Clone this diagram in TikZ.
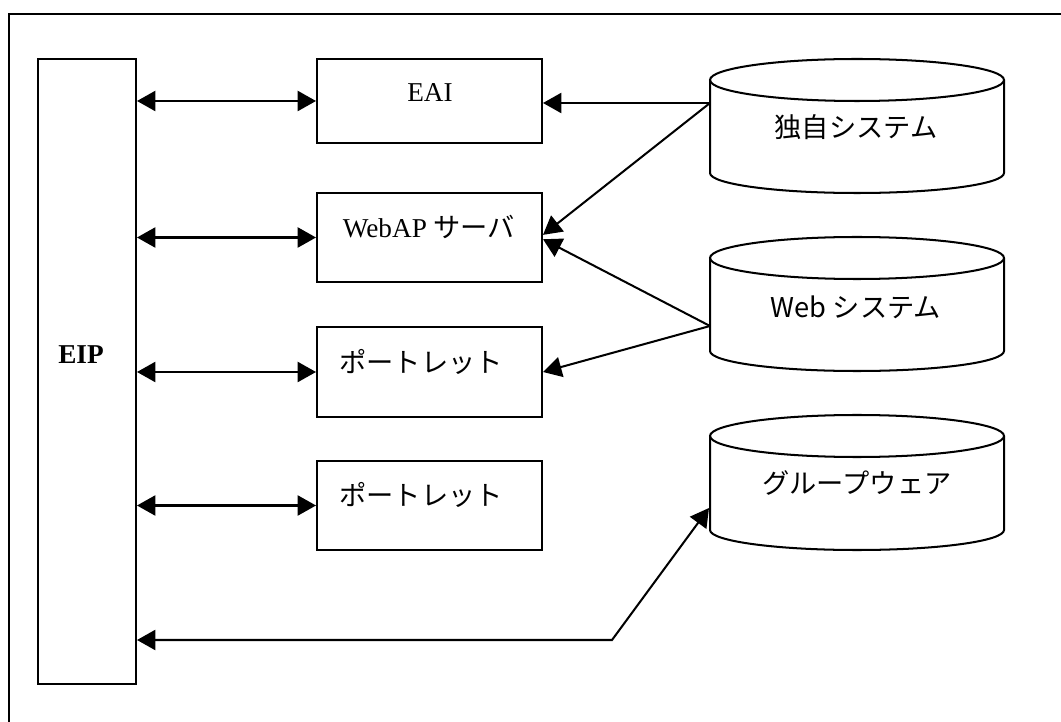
\documentclass[tikz,border=0pt]{standalone}
\usepackage{fontspec}
\setmainfont{Liberation Serif}
\newfontfamily\jp{Noto Sans CJK JP}
\usetikzlibrary{arrows.meta,fit,calc}

\tikzset{
  line/.style={line width=1.15pt},
  box/.style={draw, line, rectangle, inner sep=0pt},
  lbl/.style={inner sep=0pt, font=\fontsize{15.5}{18}\selectfont},
  tip/.style={-{Triangle[length=10.5pt,width=11.5pt]}, line},
  bitip/.style={{Triangle[length=10.5pt,width=11.5pt]}-{Triangle[length=10.5pt,width=11.5pt]}, line},
}

\begin{document}
\begin{tikzpicture}[x=0.02cm,y=0.02cm]
  \useasboundingbox (0,0) rectangle (1061,-722);

  % outer frame (runs off the right and bottom edges)
  \draw[line] (9,-730) -- (9,-14) -- (1070,-14);

  % portal column
  \node[box, fit={(38,-59) (136,-684)}] (eip) {};
  \node[lbl] (eiplbl) at (81,-355) {\textbf{EIP}};

  % middle column of integration components
  \node[box, fit={(317,-59) (542,-143)}] (eai) {};
  \node[box, fit={(317,-193) (542,-282)}] (webap) {};
  \node[box, fit={(317,-327) (542,-417)}] (p1) {};
  \node[box, fit={(317,-461) (542,-550)}] (p2) {};
  \node[lbl] (eailbl) at (430,-93) {EAI};
  \node[lbl] (webaplbl) at (429,-227) {WebAP {\jp サーバ}};
  \node[lbl] (p1lbl) at (421,-362) {\jp ポートレット};
  \node[lbl] (p2lbl) at (421,-495) {\jp ポートレット};

  % back-end systems drawn as cylinders: top ellipse centre y, side bottom y
  \foreach \name/\ty/\by in {sys/80/173, web/258/351, gw/436/530}{
    \draw[line] (710,-\ty) -- (710,-\by)
      arc[start angle=180, end angle=360, x radius=147, y radius=20]
      -- (1004,-\ty);
    \draw[line] (857,-\ty) ellipse[x radius=147, y radius=21];
  }
  \node[lbl] (syslbl) at (856,-127) {\jp 独自システム};
  \node[lbl] (weblbl) at (856,-307) {\jp Web システム};
  \node[lbl] (gwlbl) at (857,-483) {\jp グループウェア};

  % connection points on the cylinders
  \coordinate (sysw) at (710,-103);
  \coordinate (webw) at (710,-326);
  \coordinate (gww) at (709,-508);
  \coordinate (gwbend) at (612,-640);

  % portal <-> components
  \draw[bitip] (eip.east |- eai.west) -- (eai.west);
  \draw[bitip] (eip.east |- webap.west) -- (webap.west);
  \draw[bitip] (eip.east |- p1.west) -- (p1.west);
  \draw[bitip] (eip.east |- p2.west) -- (p2.west);

  % systems -> components
  \draw[tip] (sysw) -- (eai.east |- sysw);
  \draw[tip] (sysw) -- ([yshift=1.5pt]webap.east);
  \draw[tip] (webw) -- ([yshift=-1pt]webap.east);
  \draw[tip] (webw) -- (p1.east);

  % groupware <-> portal
  \draw[bitip] (eip.east |- gwbend) -- (gwbend) -- (gww);
\end{tikzpicture}
\end{document}
